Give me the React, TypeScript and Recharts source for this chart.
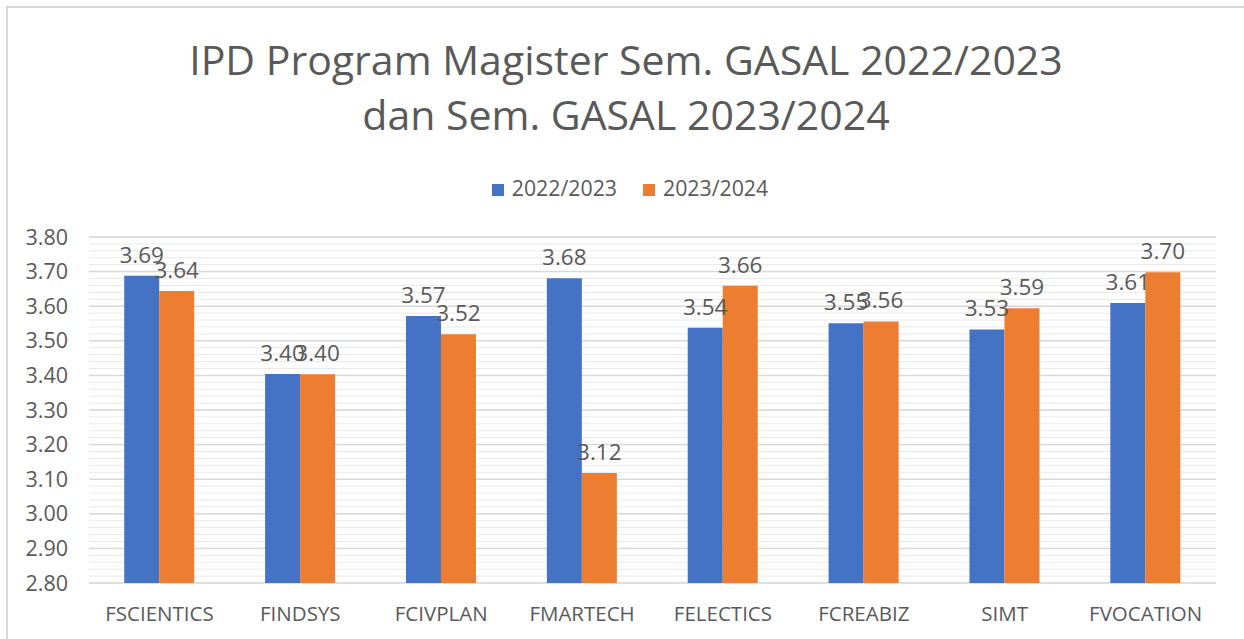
import React from 'react';
import { Bar, BarChart, CartesianGrid, LabelList, Legend, XAxis, YAxis } from 'recharts';

const categories = ['FSCIENTICS', 'FINDSYS', 'FCIVPLAN', 'FMARTECH', 'FELECTICS', 'FCREABIZ', 'SIMT', 'FVOCATION'];
const ipd2022 = [3.688, 3.404, 3.572, 3.681, 3.538, 3.551, 3.533, 3.609];
const ipd2023 = [3.644, 3.403, 3.519, 3.118, 3.659, 3.556, 3.594, 3.698];
const yTicks = [2.8, 2.9, 3.0, 3.1, 3.2, 3.3, 3.4, 3.5, 3.6, 3.7, 3.8];
const titleLines = ['IPD Program Magister Sem. GASAL 2022/2023', 'dan Sem. GASAL 2023/2024'];

const Y_MIN = 2.8;
const Y_MAX = 3.8;
// light minor gridlines every 0.02
const minorTicks = Array.from({ length: 51 }, (_, i) => +(Y_MIN + i * 0.02).toFixed(2));

const data = categories.map((name, i) => ({ name, a: ipd2022[i], b: ipd2023[i] }));

const BLUE = '#4472C4';
const ORANGE = '#ED7D31';
const TEXT = '#595959';
const FONT = '"Open Sans", sans-serif';

const fmt = (v: number) => Number(v).toFixed(2);

const minorLines = (args: any): number[] => {
  const s = args?.yAxis?.scale;
  if (typeof s === 'function') return minorTicks.map((t) => s(t));
  if (s && typeof s.map === 'function') return minorTicks.map((t) => s.map(t));
  const { top, height } = args.offset;
  return minorTicks.map((t) => top + (height * (Y_MAX - t)) / (Y_MAX - Y_MIN));
};

export default function App(): React.ReactElement {
  return (
    <div style={{ position: 'absolute', left: 0, top: 0, width: 1244, height: 639, background: '#fff', overflow: 'hidden', fontFamily: FONT }}>
      <div style={{ position: 'absolute', left: 6, top: 6, width: 1260, height: 660, borderTop: '2px solid #d9d9d9', borderLeft: '2px solid #d9d9d9' }} />
      <div style={{ position: 'absolute', left: 0, top: 32, width: 1252, textAlign: 'center', color: TEXT, fontSize: 41, lineHeight: '55px' }}>
        {titleLines.map((t) => (
          <div key={t}>{t}</div>
        ))}
      </div>
      <div style={{ position: 'absolute', left: 0, top: 0 }}>
        <BarChart
          width={1244}
          height={639}
          data={data}
          margin={{ top: 237, right: 28, bottom: 0, left: 19 }}
          barCategoryGap="25%"
          barGap={0}
        >
          <CartesianGrid vertical={false} stroke="#e9e9e9" strokeWidth={1} horizontalCoordinatesGenerator={minorLines} />
          <CartesianGrid vertical={false} stroke="#d9d9d9" strokeWidth={1.5} />
          <YAxis
            domain={[Y_MIN, Y_MAX]}
            ticks={yTicks}
            interval={0}
            tickFormatter={fmt}
            axisLine={false}
            tickLine={false}
            tickSize={0}
            tickMargin={21}
            width={70}
            tick={{ fill: TEXT, fontSize: 21.5, fontFamily: FONT }}
          />
          <XAxis
            dataKey="name"
            axisLine={false}
            tickLine={false}
            tickSize={0}
            tickMargin={23}
            height={56}
            interval={0}
            tick={{ fill: TEXT, fontSize: 20.5, fontFamily: FONT }}
          />
          <Legend
            verticalAlign="middle"
            align="center"
            layout="horizontal"
            iconType="square"
            iconSize={12}
            wrapperStyle={{ top: 173, left: 12, width: 1262, fontFamily: FONT, fontSize: 21.3 }}
            formatter={(value: string) => (
              <span style={{ color: TEXT, marginLeft: 4, marginRight: 16 }}>{value}</span>
            )}
          />
          <Bar dataKey="a" name="2022/2023" fill={BLUE} isAnimationActive={false}>
            <LabelList dataKey="a" position="top" offset={13} formatter={fmt} fill={TEXT} fontSize={22.5} fontFamily={FONT} />
          </Bar>
          <Bar dataKey="b" name="2023/2024" fill={ORANGE} isAnimationActive={false}>
            <LabelList dataKey="b" position="top" offset={13} formatter={fmt} fill={TEXT} fontSize={22.5} fontFamily={FONT} />
          </Bar>
        </BarChart>
      </div>
    </div>
  );
}
